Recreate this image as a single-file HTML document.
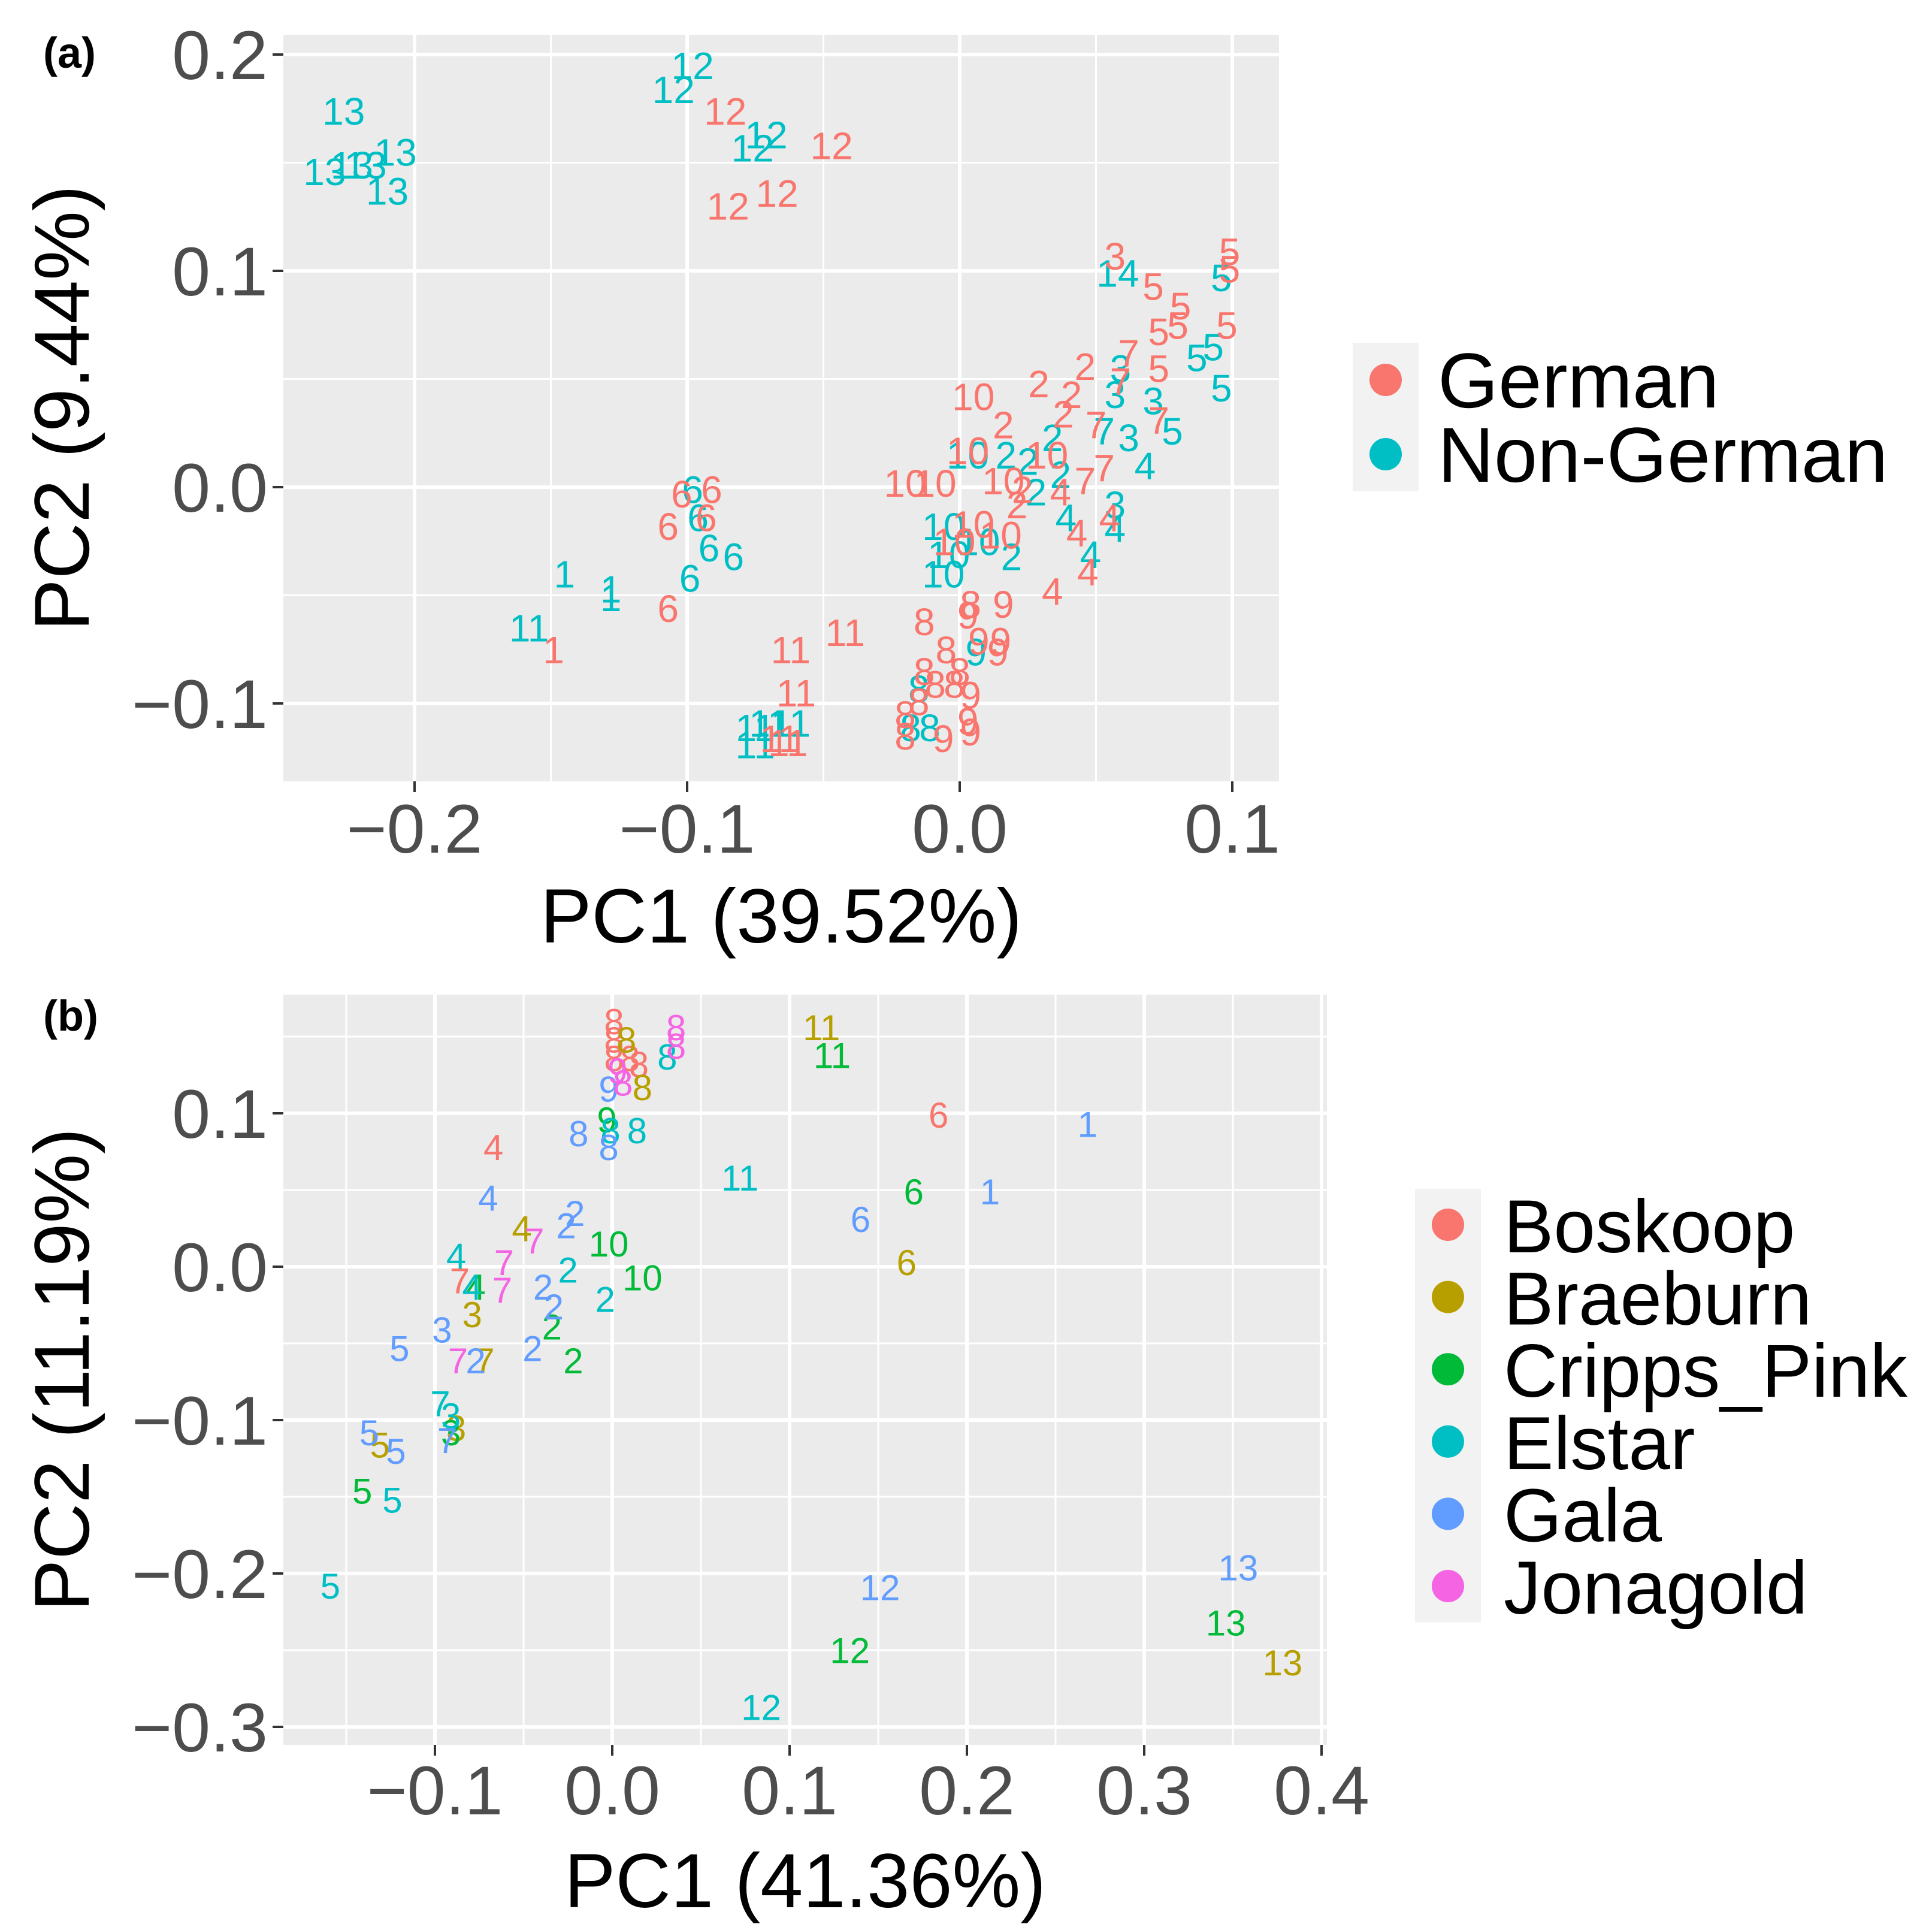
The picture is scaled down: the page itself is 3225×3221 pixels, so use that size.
<!DOCTYPE html>
<html><head><meta charset="utf-8"><style>
html,body{margin:0;padding:0;background:#fff}
svg{display:block}
text{font-family:"Liberation Sans",sans-serif}
</style></head><body>
<svg id="fig" width="3225" height="3221" viewBox="0 0 3225 3221" xmlns="http://www.w3.org/2000/svg">
<rect x="0" y="0" width="3225" height="3221" fill="#ffffff"/>
<text x="72" y="113" font-size="72" font-weight="bold" fill="#000">(a)</text>
<text x="72" y="1720" font-size="72" font-weight="bold" fill="#000">(b)</text>
<g id="pa"></g>
<g id="pb"></g>
</svg>
<script>
// ---------- Panel A data ----------
const aGroups = ["German", "Non-German"];
const aColors = ["#F8766D", "#00BFC4"];
const aXTicks = [-0.2, -0.1, 0.0, 0.1];
const aXTickLabels = ["\u22120.2", "\u22120.1", "0.0", "0.1"];
const aYTicks = [0.2, 0.1, 0.0, -0.1];
const aYTickLabels = ["0.2", "0.1", "0.0", "\u22120.1"];
const aLabels = [
"13","13","13","13","13","13","12","12","12","12","1","1","1","11","6","6","6","6","6","11","11","11","11","14",
"10","10","10","10","10","2","2","2","2","2","2","3","3","3","3","3","5","5","5","5","5","4","4","4","4","7","8","8","8","9",
"12","12","12","12","1","6","6","6","6","6","11","11","11","11","11","3","5","5","5","5","5","5","5","5",
"7","7","7","7","7","7","2","2","2","2","2","2","2","10","10","10","10","10","10","10","10","10",
"4","4","4","4","4","8","8","9","9","9","8","8","8","8","8","8","8","8","9","9","9","9","9","9"];
const aGroupIdx = [
1,1,1,1,1,1,1,1,1,1,1,1,1,1,1,1,1,1,1,1,1,1,1,1,
1,1,1,1,1,1,1,1,1,1,1,1,1,1,1,1,1,1,1,1,1,1,1,1,1,1,1,1,1,1,
0,0,0,0,0,0,0,0,0,0,0,0,0,0,0,0,0,0,0,0,0,0,0,0,
0,0,0,0,0,0,0,0,0,0,0,0,0,0,0,0,0,0,0,0,0,0,
0,0,0,0,0,0,0,0,0,0,0,0,0,0,0,0,0,0,0,0,0,0,0,0];
const aPC1 = [
-0.226,-0.233,-0.218,-0.207,-0.210,-0.223,-0.098,-0.105,-0.071,-0.076,-0.145,-0.128,-0.128,-0.158,-0.098,-0.096,-0.092,-0.083,-0.099,-0.075,-0.070,-0.062,-0.075,0.058,
0.003,-0.006,-0.004,-0.006,0.007,0.017,0.034,0.025,0.028,0.019,0.037,0.059,0.057,0.071,0.062,0.057,0.096,0.087,0.096,0.078,0.093,0.068,0.057,0.048,0.039,0.053,-0.015,-0.018,-0.011,0.006,
-0.086,-0.047,-0.085,-0.067,-0.149,-0.091,-0.102,-0.107,-0.093,-0.107,-0.062,-0.042,-0.060,-0.066,-0.063,0.057,0.071,0.081,0.080,0.073,0.073,0.099,0.099,0.098,
0.062,0.059,0.073,0.050,0.053,0.046,0.046,0.029,0.041,0.038,0.016,0.023,0.021,0.005,-0.020,-0.009,0.003,0.016,0.032,0.005,0.015,-0.002,
0.034,0.047,0.043,0.055,0.037,-0.013,0.004,0.016,0.015,0.014,-0.005,0.000,-0.002,-0.009,-0.013,-0.015,-0.020,-0.020,0.004,0.003,0.004,-0.006,0.007,0.003];
const aPC2 = [
0.174,0.146,0.149,0.155,0.137,0.149,0.195,0.184,0.163,0.157,-0.040,-0.047,-0.051,-0.065,-0.001,-0.014,-0.028,-0.032,-0.042,-0.111,-0.109,-0.109,-0.119,0.099,
0.015,-0.018,-0.031,-0.040,-0.025,0.015,0.023,0.012,-0.002,-0.032,0.006,0.055,0.043,0.040,0.023,-0.008,0.097,0.060,0.046,0.026,0.065,0.010,-0.019,-0.031,-0.014,0.026,-0.093,-0.111,-0.111,-0.076,
0.174,0.158,0.130,0.136,-0.075,-0.001,-0.003,-0.018,-0.014,-0.056,-0.075,-0.067,-0.095,-0.116,-0.118,0.107,0.093,0.084,0.075,0.072,0.055,0.109,0.101,0.075,
0.062,0.049,0.031,0.029,0.009,0.003,0.056,0.048,0.043,0.034,0.029,-0.001,-0.008,0.042,0.002,0.002,0.017,0.003,0.015,-0.017,-0.022,-0.025,
-0.048,-0.039,-0.021,-0.014,-0.002,-0.062,-0.054,-0.054,-0.071,-0.076,-0.075,-0.085,-0.091,-0.091,-0.085,-0.099,-0.105,-0.115,-0.096,-0.108,-0.113,-0.116,-0.071,-0.059];

// ---------- Panel B data ----------
const bGroups = ["Boskoop","Braeburn","Cripps_Pink","Elstar","Gala","Jonagold"];
const bColors = ["#F8766D","#B79F00","#00BA38","#00BFC4","#619CFF","#F564E3"];
const bXTicks = [-0.1, 0.0, 0.1, 0.2, 0.3, 0.4];
const bXTickLabels = ["\u22120.1","0.0","0.1","0.2","0.3","0.4"];
const bYTicks = [0.1, 0.0, -0.1, -0.2, -0.3];
const bYTickLabels = ["0.1","0.0","\u22120.1","\u22120.2","\u22120.3"];
const bLabels = [
"8","8","8","8","8","4","6","7",
"11","8","8","4","6","3","7","3","5","13",
"11","9","6","10","10","4","2","2","3","5","12","13",
"8","8","8","11","2","2","4","7","3","5","5","12","4",
"1","1","6","4","2","2","9","8","8","2","2","2","2","3","5","5","5","12","13","7",
"8","8","9","7","7","7","7","8"];
const bGroupIdx = [
0,0,0,0,0,0,0,0,
1,1,1,1,1,1,1,1,1,1,
2,2,2,2,2,2,2,2,2,2,2,2,
3,3,3,3,3,3,3,3,3,3,3,3,3,
4,4,4,4,4,4,4,4,4,4,4,4,4,4,4,4,4,4,4,4,
5,5,5,5,5,5,5,5];
const bPC1 = [
0.001,0.001,0.001,0.010,0.015,-0.067,0.184,-0.086,
0.118,0.008,0.017,-0.051,0.166,-0.079,-0.072,-0.088,-0.131,0.378,
0.124,-0.003,0.170,-0.002,0.017,-0.077,-0.034,-0.022,-0.091,-0.141,0.134,0.346,
0.031,0.014,-0.001,0.072,-0.025,-0.004,-0.079,-0.097,-0.091,-0.124,-0.159,0.084,-0.088,
0.268,0.213,0.140,-0.070,-0.021,-0.026,-0.002,-0.019,-0.002,-0.039,-0.033,-0.045,-0.077,-0.096,-0.120,-0.137,-0.122,0.151,0.353,-0.093,
0.036,0.036,0.003,-0.061,-0.044,-0.062,-0.087,0.006];
const bPC2 = [
0.160,0.148,0.136,0.136,0.132,0.078,0.099,-0.009,
0.156,0.148,0.117,0.025,0.003,-0.031,-0.061,-0.105,-0.116,-0.258,
0.138,0.096,0.049,0.015,-0.007,-0.013,-0.039,-0.061,-0.108,-0.146,-0.250,-0.232,
0.137,0.089,0.089,0.058,-0.002,-0.021,-0.013,-0.089,-0.097,-0.152,-0.208,-0.287,0.007,
0.093,0.049,0.031,0.045,0.035,0.027,0.116,0.087,0.078,-0.013,-0.026,-0.053,-0.061,-0.041,-0.053,-0.108,-0.120,-0.209,-0.196,-0.113,
0.156,0.144,0.128,0.003,0.017,-0.015,-0.061,0.120];

const NS = "http://www.w3.org/2000/svg";
function mk(parent, tag, attrs, txt) {
  const e = document.createElementNS(NS, tag);
  for (const k in attrs) e.setAttribute(k, attrs[k]);
  if (txt !== undefined) e.textContent = txt;
  parent.appendChild(e);
  return e;
}

function drawPanel(g, cfg) {
  const {x0,x1,y0,y1,xo,xs,yo,ys,xMinor,yMinor,xTicks,xTickLabels,yTicks,yTickLabels,xTitle,yTitle,xTitleX,xTickY,xTitleY,yTitleX,labels,gidx,pc1,pc2,colors,fs} = cfg;
  const X = v => xo + v*xs;
  const Y = v => yo - v*ys;
  const bg = mk(g,'rect',{x:x0,y:y0,width:x1-x0,height:y1-y0,fill:'#EBEBEB'});
  
  
  xMinor.forEach(v=>{ const l=mk(g,'line',{x1:X(v),x2:X(v),y1:y0,y2:y1,stroke:'#fff','stroke-width':3});
     });
  yMinor.forEach(v=>{ const l=mk(g,'line',{x1:x0,x2:x1,y1:Y(v),y2:Y(v),stroke:'#fff','stroke-width':3});
     });
  xTicks.forEach((v,i)=>{
    const l=mk(g,'line',{x1:X(v),x2:X(v),y1:y0,y2:y1,stroke:'#fff','stroke-width':6});
     
    const t=mk(g,'line',{x1:X(v),x2:X(v),y1:y1,y2:y1+18,stroke:'#333','stroke-width':4});
     
    const tl=mk(g,'text',{x:X(v),y:xTickY,'font-size':115,fill:'#4D4D4D','text-anchor':'middle'},xTickLabels[i]);
     
  });
  yTicks.forEach((v,i)=>{
    const l=mk(g,'line',{x1:x0,x2:x1,y1:Y(v),y2:Y(v),stroke:'#fff','stroke-width':6});
     
    const t=mk(g,'line',{x1:x0-18,x2:x0,y1:Y(v),y2:Y(v),stroke:'#333','stroke-width':4});
     
    const tl=mk(g,'text',{x:x0-26,y:Y(v)+41,'font-size':115,fill:'#4D4D4D','text-anchor':'end'},yTickLabels[i]);
     
  });
  const xt=mk(g,'text',{x:xTitleX,y:xTitleY,'font-size':128,fill:'#000','text-anchor':'middle'},xTitle);
   
  const yc=(y0+y1)/2;
  const yt=mk(g,'text',{x:yTitleX,y:yc,'font-size':130,fill:'#000','text-anchor':'middle',transform:`rotate(-90 ${yTitleX} ${yc})`},yTitle);
   
  const pg=mk(g,'g',{});
   
  labels.forEach((lab,i)=>{
    const t=mk(pg,'text',{x:X(pc1[i]),y:Y(pc2[i])+fs*0.36,'font-size':fs,fill:colors[gidx[i]],'text-anchor':'middle'},lab);
     
  });
}

function drawLegend(g, names, colors, bx, by, bw, ey0, step, cx, tx, fs) {
  const lg=mk(g,'g',{});
   
  const bh = step*names.length;
  const r=mk(lg,'rect',{x:bx,y:by,width:bw,height:bh,fill:'#F2F2F2'});
   
  names.forEach((n,i)=>{
    const cy=ey0+i*step;
    const c=mk(lg,'circle',{cx:cx,cy:cy,r:27,fill:colors[i]});
     
    const t=mk(lg,'text',{x:tx,y:cy+46,'font-size':fs,fill:'#000'},n);
     
  });
}

const pa=document.getElementById('pa');
drawPanel(pa,{x0:473,x1:2135,y0:58,y1:1304,xo:1602,xs:4550,yo:813,ys:3610,
  xMinor:[-0.25,-0.15,-0.05,0.05,0.15].filter(v=>1602+v*4550>473&&1602+v*4550<2135),
  yMinor:[0.15,0.05,-0.05],
  xTicks:aXTicks,xTickLabels:aXTickLabels,yTicks:aYTicks,yTickLabels:aYTickLabels,
  xTitle:"PC1 (39.52%)",yTitle:"PC2 (9.44%)",xTitleX:1304,xTickY:1423,xTitleY:1573,yTitleX:148,
  labels:aLabels,gidx:aGroupIdx,pc1:aPC1,pc2:aPC2,colors:aColors,fs:64});
drawLegend(pa,aGroups,aColors,2258,572,110,634,124,2313,2400,130);

const pb=document.getElementById('pb');
drawPanel(pb,{x0:473,x1:2215,y0:1660,y1:2912,xo:1022,xs:2960,yo:2114,ys:2560,
  xMinor:[-0.15,-0.05,0.05,0.15,0.25,0.35],
  yMinor:[0.15,0.05,-0.05,-0.15,-0.25],
  xTicks:bXTicks,xTickLabels:bXTickLabels,yTicks:bYTicks,yTickLabels:bYTickLabels,
  xTitle:"PC1 (41.36%)",yTitle:"PC2 (11.19%)",xTitleX:1344,xTickY:3028,xTitleY:3183,yTitleX:148,
  labels:bLabels,gidx:bGroupIdx,pc1:bPC1,pc2:bPC2,colors:bColors,fs:60});
drawLegend(pb,bGroups,bColors,2362,1984,110,2044,120.6,2417,2510,125);
</script>
</body></html>
